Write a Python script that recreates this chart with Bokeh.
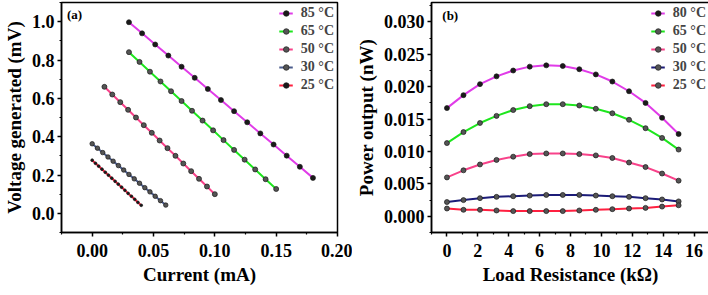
from bokeh.plotting import figure
from bokeh.layouts import row
from bokeh.models import FixedTicker, Legend, LegendItem, Label, Range1d
from bokeh.embed import file_html
from bokeh.resources import INLINE

# ---------------- data: panel (a) ----------------
cur_85 = [0.030, 0.0407, 0.0514, 0.0621, 0.0729, 0.0836, 0.0943, 0.105, 0.1157, 0.1264, 0.1371, 0.1479, 0.1586, 0.1693, 0.180]
volt_85 = [0.997, 0.939, 0.881, 0.823, 0.765, 0.707, 0.649, 0.591, 0.533, 0.475, 0.417, 0.359, 0.301, 0.243, 0.185]
cur_65 = [0.030, 0.0386, 0.0471, 0.0557, 0.0643, 0.0729, 0.0814, 0.090, 0.0986, 0.1071, 0.1157, 0.1243, 0.1329, 0.1414, 0.150]
volt_65 = [0.841, 0.790, 0.739, 0.688, 0.637, 0.586, 0.535, 0.484, 0.433, 0.382, 0.331, 0.280, 0.229, 0.178, 0.127]
cur_50 = [0.010, 0.0164, 0.0229, 0.0293, 0.0357, 0.0421, 0.0486, 0.055, 0.0614, 0.0679, 0.0743, 0.0807, 0.0871, 0.0936, 0.100]
volt_50 = [0.660, 0.620, 0.580, 0.540, 0.500, 0.460, 0.420, 0.380, 0.340, 0.300, 0.260, 0.220, 0.180, 0.140, 0.100]
cur_30 = [0.0, 0.0043, 0.0086, 0.0129, 0.0171, 0.0214, 0.0257, 0.030, 0.0343, 0.0386, 0.0429, 0.0471, 0.0514, 0.0557, 0.060]
volt_30 = [0.363, 0.340, 0.317, 0.294, 0.272, 0.249, 0.226, 0.203, 0.180, 0.157, 0.134, 0.112, 0.089, 0.066, 0.043]
cur_25 = [0.0, 0.0027, 0.0053, 0.008, 0.0107, 0.0133, 0.016, 0.0187, 0.0213, 0.024, 0.0267, 0.0293, 0.032, 0.0347, 0.0373, 0.040]
volt_25 = [0.277, 0.261, 0.246, 0.230, 0.214, 0.199, 0.183, 0.167, 0.152, 0.136, 0.120, 0.104, 0.089, 0.073, 0.057, 0.042]

# ---------------- data: panel (b) ----------------
load_r = [0.0, 1.07, 2.14, 3.21, 4.29, 5.36, 6.43, 7.5, 8.57, 9.64, 10.71, 11.79, 12.86, 13.93, 15.0]
pow_80 = [0.0167, 0.0187, 0.0204, 0.0216, 0.0225, 0.0231, 0.0233, 0.0232, 0.0227, 0.0219, 0.0208, 0.0193, 0.0175, 0.0152, 0.0127]
pow_65 = [0.0113, 0.0130, 0.0144, 0.0155, 0.0164, 0.0170, 0.0173, 0.0173, 0.0171, 0.0166, 0.0159, 0.0149, 0.0136, 0.0121, 0.0103]
pow_50 = [0.0060, 0.0071, 0.0080, 0.0087, 0.0092, 0.0096, 0.0097, 0.0097, 0.0096, 0.0094, 0.0090, 0.0083, 0.0076, 0.0066, 0.0055]
pow_30 = [0.0022, 0.0025, 0.0028, 0.0030, 0.0031, 0.0032, 0.0033, 0.0033, 0.0033, 0.0032, 0.0031, 0.0030, 0.0028, 0.0026, 0.0023]
pow_25 = [0.0012, 0.0010, 0.0010, 0.0009, 0.0008, 0.0008, 0.0008, 0.0008, 0.0009, 0.0010, 0.0011, 0.0012, 0.0013, 0.0015, 0.0017]

labels_a = ["85 \u00b0C", "65 \u00b0C", "50 \u00b0C", "30 \u00b0C", "25 \u00b0C"]
labels_b = ["80 \u00b0C", "65 \u00b0C", "50 \u00b0C", "30 \u00b0C", "25 \u00b0C"]

xticks_a = [0.0, 0.05, 0.10, 0.15, 0.20]
xlabels_a = ["0.00", "0.05", "0.10", "0.15", "0.20"]
yticks_a = [0.0, 0.2, 0.4, 0.6, 0.8, 1.0]
ylabels_a = ["0.0", "0.2", "0.4", "0.6", "0.8", "1.0"]
xticks_b = [0, 2, 4, 6, 8, 10, 12, 14, 16]
yticks_b = [0.0, 0.005, 0.010, 0.015, 0.020, 0.025, 0.030]
ylabels_b = ["0.000", "0.005", "0.010", "0.015", "0.020", "0.025", "0.030"]

FONT = "Liberation Serif"
MAGENTA = "#E03CE8"
GREEN = "#1EE61E"
PINK = "#F8428A"
SLATE = "#4B5C8C"
NAVY = "#1C1C78"
RED = "#FF2040"


def style(p):
    p.xgrid.visible = False
    p.ygrid.visible = False
    p.outline_line_color = "black"
    p.outline_line_width = 1.5
    p.background_fill_color = "white"
    p.border_fill_color = "white"
    for ax in (p.xaxis[0], p.yaxis[0]):
        ax.axis_line_width = 1.5
        ax.major_tick_line_width = 1.5
        ax.minor_tick_line_width = 1.2
        ax.major_tick_out = 4
        ax.major_tick_in = 0
        ax.minor_tick_out = 2
        ax.minor_tick_in = 0
        ax.major_label_text_font = FONT
        ax.major_label_text_font_style = "bold"
        ax.major_label_text_font_size = "18px"
        ax.major_label_text_color = "black"
        ax.axis_label_text_font = FONT
        ax.axis_label_text_font_style = "bold"
        ax.axis_label_text_font_size = "19px"
        ax.axis_label_text_color = "black"
    p.xaxis[0].major_label_standoff = 7
    p.yaxis[0].major_label_standoff = 3
    p.xaxis[0].axis_label_standoff = 4
    p.yaxis[0].axis_label_standoff = 4


def series(p, x, y, color, fill, size, lw=2):
    ln = p.line(x, y, line_color=color, line_width=lw)
    sc = p.scatter(x, y, size=size, fill_color=fill, line_color="#1a1a1a", line_width=0.7)
    return [ln, sc]


def make_legend(p, items):
    leg = Legend(items=items, location="top_right")
    leg.border_line_alpha = 0
    leg.background_fill_alpha = 0
    leg.label_text_font = FONT
    leg.label_text_font_style = "bold"
    leg.label_text_font_size = "14px"
    leg.glyph_width = 14
    leg.glyph_height = 16
    leg.label_height = 16
    leg.spacing = 2
    leg.padding = 1
    leg.margin = 2
    leg.label_standoff = 8
    p.add_layout(leg)


# ---------------- panel (a) ----------------
p1 = figure(frame_width=276, frame_height=230, output_backend="svg", toolbar_location=None,
            x_range=Range1d(-0.025, 0.2), y_range=Range1d(-0.1, 1.1),
            min_border_left=0, min_border_right=15, min_border_top=2, min_border_bottom=0)
style(p1)
p1.xaxis[0].axis_label = "Current (mA)"
p1.yaxis[0].axis_label = "Voltage generated (mV)"
p1.xaxis[0].ticker = FixedTicker(ticks=xticks_a, minor_ticks=[-0.025, 0.025, 0.075, 0.125, 0.175])
p1.xaxis[0].major_label_overrides = {t: l for t, l in zip(xticks_a, xlabels_a)}
p1.yaxis[0].ticker = FixedTicker(ticks=yticks_a, minor_ticks=[-0.1, 0.1, 0.3, 0.5, 0.7, 0.9, 1.1])
p1.yaxis[0].major_label_overrides = {t: l for t, l in zip(yticks_a, ylabels_a)}

r85 = series(p1, cur_85, volt_85, MAGENTA, "#1a1a1a", 5)
r65 = series(p1, cur_65, volt_65, GREEN, "#555555", 5)
r50 = series(p1, cur_50, volt_50, PINK, "#555555", 5)
r30 = series(p1, cur_30, volt_30, SLATE, "#555555", 4.5)
r25 = series(p1, cur_25, volt_25, RED, "#1a1a1a", 2.8)
make_legend(p1, [LegendItem(label=l, renderers=r) for l, r in zip(labels_a, [r85, r65, r50, r30, r25])])
p1.add_layout(Label(x=-0.0205, y=1.075, text="(a)", text_font=FONT, text_font_style="bold",
                    text_font_size="13px", text_baseline="top", text_color="black"))

# ---------------- panel (b) ----------------
p2 = figure(frame_width=278, frame_height=230, output_backend="svg", toolbar_location=None,
            x_range=Range1d(-1, 17), y_range=Range1d(-0.0025, 0.033),
            min_border_left=0, min_border_right=1, min_border_top=2, min_border_bottom=0)
style(p2)
p2.xaxis[0].axis_label = "Load Resistance (k\u03a9)"
p2.yaxis[0].axis_label = "Power output (nW)"
p2.xaxis[0].ticker = FixedTicker(ticks=xticks_b, minor_ticks=[-1, 1, 3, 5, 7, 9, 11, 13, 15, 17])
p2.yaxis[0].ticker = FixedTicker(ticks=yticks_b,
                                 minor_ticks=[-0.0025, 0.0025, 0.0075, 0.0125, 0.0175, 0.0225, 0.0275, 0.0325])
p2.yaxis[0].major_label_overrides = {t: l for t, l in zip(yticks_b, ylabels_b)}

s80 = series(p2, load_r, pow_80, MAGENTA, "#1a1a1a", 5)
s65 = series(p2, load_r, pow_65, GREEN, "#555555", 5)
s50 = series(p2, load_r, pow_50, PINK, "#555555", 5)
s30 = series(p2, load_r, pow_30, NAVY, "#555555", 5)
s25 = series(p2, load_r, pow_25, RED, "#555555", 5)
make_legend(p2, [LegendItem(label=l, renderers=r) for l, r in zip(labels_b, [s80, s65, s50, s30, s25])])
p2.add_layout(Label(x=-0.3, y=0.0322, text="(b)", text_font=FONT, text_font_style="bold",
                    text_font_size="13px", text_baseline="top", text_color="black"))

layout = row(p1, p2, spacing=0)
open("out.html", "w").write(file_html(layout, INLINE))
